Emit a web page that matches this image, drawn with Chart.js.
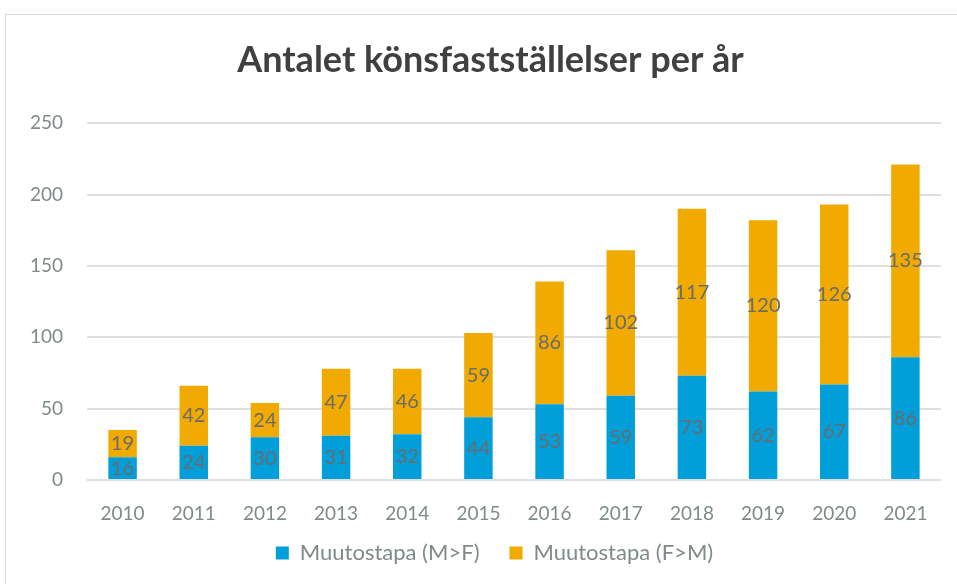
<!DOCTYPE html>
<html>
<head>
<meta charset="utf-8">
<script src="https://cdn.jsdelivr.net/npm/chart.js@4/dist/chart.umd.min.js"></script>
<style>
html,body{margin:0;padding:0;background:#fff;}
#frame{position:absolute;left:5px;top:14px;width:970px;height:600px;border:1px solid #d9d9d9;}
#wrap{position:absolute;left:0;top:0;width:957px;height:584px;}
</style>
</head>
<body>
<div id="frame"></div>
<div id="wrap"><canvas id="konsChart"></canvas></div>
<script>
const years = ['2010','2011','2012','2013','2014','2015','2016','2017','2018','2019','2020','2021'];
const mtf = [16,24,30,31,32,44,53,59,73,62,67,86];
const ftm = [19,42,24,47,46,59,86,102,117,120,126,135];
const yTicks = [0,50,100,150,200,250];

// value labels in the middle of each segment
const segLabels = {
  id:'segLabels',
  afterLayout(chart){
    // title and legend sit a bit right of centre in the original
    chart.titleBlock.left += 20;
    chart.titleBlock.right += 20;
    chart.legend.left += 24;
    chart.legend.right += 24;
    // let the year labels hang below the squeezed x axis without clipping
    chart.scales.x.bottom += 30;
  },
  afterDatasetsDraw(chart){
    const c = chart.ctx;
    c.save();
    c.font = '20px Lato';
    c.fillStyle = '#6b6b6b';
    c.textAlign = 'center';
    c.textBaseline = 'middle';
    chart.data.datasets.forEach((ds,i)=>{
      chart.getDatasetMeta(i).data.forEach((bar,j)=>{
        c.fillText(ds.data[j], bar.x, (bar.y + bar.base)/2);
      });
    });
    c.restore();
  }
};

new Chart(document.getElementById('konsChart'),{
  type:'bar',
  data:{
    labels:years,
    datasets:[
      {label:'Muutostapa (M>F)', data:mtf, backgroundColor:'#009fda'},
      {label:'Muutostapa (F>M)', data:ftm, backgroundColor:'#f0aa00'}
    ]
  },
  options:{
    responsive:true,
    maintainAspectRatio:false,
    animation:false,
    layout:{padding:{left:0,right:16,top:0,bottom:10}},
    datasets:{bar:{barPercentage:0.4,categoryPercentage:1}},
    plugins:{
      title:{
        display:true,
        text:'Antalet könsfastställelser per år',
        color:'#404040',
        font:{family:'Lato',size:36,weight:'bold'},
        padding:{top:39,bottom:41}
      },
      legend:{
        position:'bottom',
        labels:{
          color:'#7f8a8a',
          font:{family:'Lato',size:22},
          boxWidth:13,
          boxHeight:13,
          padding:30
        }
      },
      tooltip:{enabled:false}
    },
    scales:{
      x:{
        stacked:true,
        grid:{display:false},
        border:{display:false},
        ticks:{color:'#7f8a8a',font:{family:'Lato',size:19},padding:14},
        afterFit(s){ s.height = 32; }
      },
      y:{
        stacked:true,
        min:0,
        max:250,
        afterBuildTicks(s){ s.ticks = yTicks.map(v=>({value:v})); },
        afterFit(s){ s.width = 87; },
        grid:{color:'#e0e0e0',lineWidth:2,drawTicks:false},
        border:{display:false},
        ticks:{color:'#7f8a8a',font:{family:'Lato',size:19},padding:24}
      }
    }
  },
  plugins:[segLabels]
});
</script>
</body>
</html>
